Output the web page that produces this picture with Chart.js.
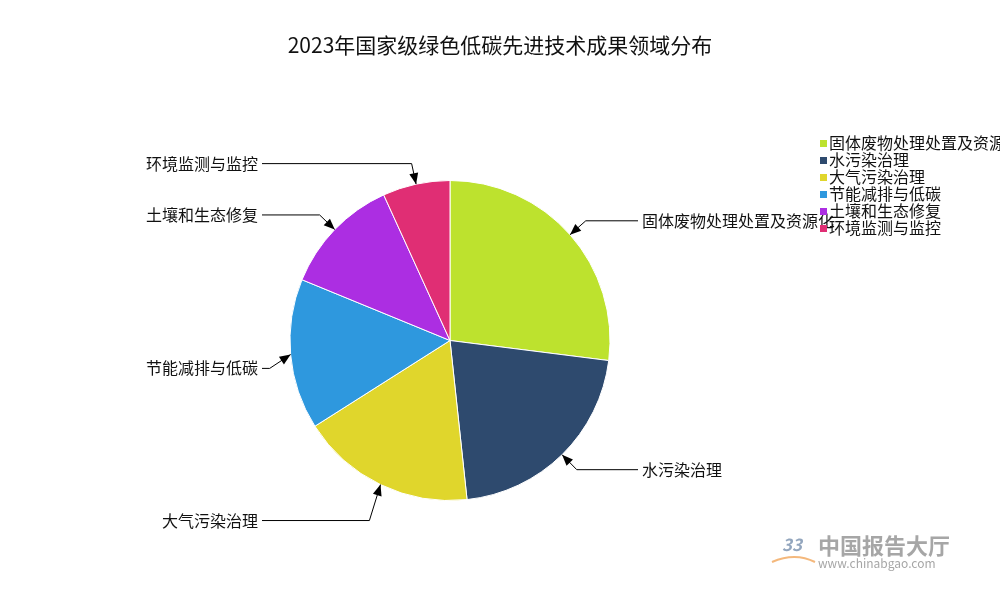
<!DOCTYPE html>
<html>
<head>
<meta charset="utf-8">
<script src="https://cdn.jsdelivr.net/npm/chart.js@4.4.0/dist/chart.umd.min.js"></script>
<style>
  html, body { margin: 0; padding: 0; background: #fff; }
  #wrap { width: 1000px; height: 600px; position: relative; }
</style>
</head>
<body>
<div id="wrap"><canvas id="pie"></canvas></div>
<script>
const titleText = '2023年国家级绿色低碳先进技术成果领域分布';
const fields = ['固体废物处理处置及资源化', '水污染治理', '大气污染治理', '节能减排与低碳', '土壤和生态修复', '环境监测与监控'];
const shares = [27.0, 21.3, 17.7, 15.2, 12.0, 6.8];
const colors = ['#bde22e', '#2e4a6e', '#e0d62c', '#2e98de', '#ac2ee2', '#e02e74'];

const FONT = "'Noto Sans CJK SC', 'Noto Sans', sans-serif";

// title, leader labels, legend and watermark
const extras = {
  id: 'extras',
  afterDraw(chart) {
    const ctx = chart.ctx;
    const meta = chart.getDatasetMeta(0);
    ctx.save();

    // title
    ctx.fillStyle = '#111';
    ctx.font = '21px ' + FONT;
    ctx.textAlign = 'center';
    ctx.textBaseline = 'middle';
    ctx.fillText(titleText, 500, 45);

    // leader lines with arrows
    ctx.font = '16px ' + FONT;
    ctx.strokeStyle = '#000';
    ctx.fillStyle = '#000';
    ctx.lineWidth = 1;
    meta.data.forEach((arc, i) => {
      const mid = (arc.startAngle + arc.endAngle) / 2;
      const R = arc.outerRadius;
      const tx = arc.x + Math.cos(mid) * R;
      const ty = arc.y + Math.sin(mid) * R;
      let bx = arc.x + Math.cos(mid) * (R + 21);
      let by = arc.y + Math.sin(mid) * (R + 21);
      if (i === 2) { bx -= 2; by += 17; }
      if (i === 3) { by += 12; }
      const right = Math.cos(mid) >= 0;
      const ex = right ? arc.x + 188 : arc.x - 188;

      ctx.beginPath();
      ctx.moveTo(ex, by);
      ctx.lineTo(bx, by);
      ctx.lineTo(tx, ty);
      ctx.stroke();

      // arrowhead
      const ang = Math.atan2(ty - by, tx - bx);
      const len = 11, hw = 4.5;
      ctx.beginPath();
      ctx.moveTo(tx, ty);
      ctx.lineTo(tx - Math.cos(ang) * len - Math.sin(ang) * hw, ty - Math.sin(ang) * len + Math.cos(ang) * hw);
      ctx.lineTo(tx - Math.cos(ang) * len + Math.sin(ang) * hw, ty - Math.sin(ang) * len - Math.cos(ang) * hw);
      ctx.closePath();
      ctx.fill();

      ctx.textAlign = right ? 'left' : 'right';
      ctx.textBaseline = 'middle';
      ctx.fillStyle = '#111';
      ctx.fillText(fields[i], right ? ex + 4 : ex - 4, by);
      ctx.fillStyle = '#000';
    });

    // legend
    ctx.font = '16px ' + FONT;
    ctx.textAlign = 'left';
    ctx.textBaseline = 'middle';
    fields.forEach((f, i) => {
      const y = 143 + i * 17;
      ctx.fillStyle = colors[i];
      ctx.fillRect(820, y - 3, 7, 7);
      ctx.fillStyle = '#111';
      ctx.fillText(f, 829, y);
    });

    // watermark
    ctx.globalAlpha = 0.75;
    ctx.fillStyle = '#6f88a8';
    ctx.font = 'italic bold 17px ' + FONT;
    ctx.fillText('33', 782, 545);
    ctx.strokeStyle = '#f0a050';
    ctx.lineWidth = 2;
    ctx.beginPath();
    ctx.moveTo(772, 562);
    ctx.quadraticCurveTo(795, 552, 815, 562);
    ctx.stroke();
    ctx.fillStyle = '#888';
    ctx.font = 'bold 22px ' + FONT;
    ctx.fillText('中国报告大厅', 818, 546);
    ctx.font = '12px ' + FONT;
    ctx.fillText('www.chinabgao.com', 818, 563);
    ctx.restore();
  }
};

new Chart(document.getElementById('pie'), {
  type: 'pie',
  data: {
    labels: fields,
    datasets: [{
      data: shares,
      backgroundColor: colors,
      borderColor: '#ffffff',
      borderWidth: 1
    }]
  },
  options: {
    responsive: true,
    maintainAspectRatio: false,
    animation: false,
    layout: { padding: { top: 180, bottom: 99, left: 100, right: 200 } },
    plugins: {
      legend: { display: false },
      title: { display: false },
      tooltip: { enabled: false }
    }
  },
  plugins: [extras]
});
</script>
</body>
</html>
